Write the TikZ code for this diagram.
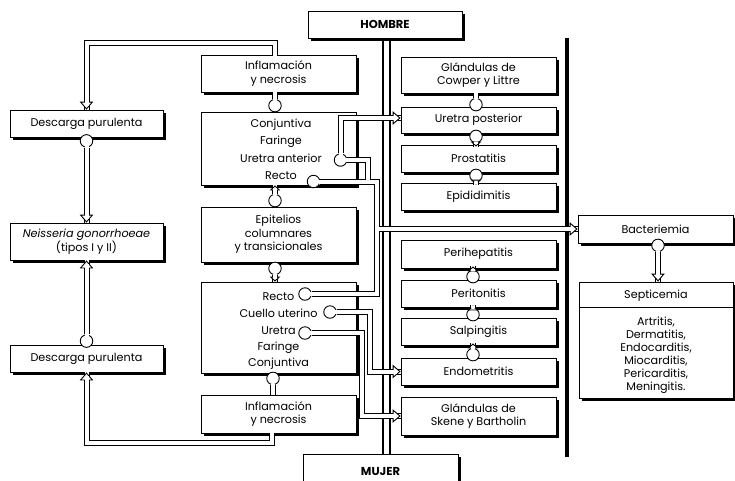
\documentclass[tikz,border=0pt]{standalone}
\usepackage{fontspec}
\setmainfont{Poppins}
\usetikzlibrary{arrows.meta,calc}

\begin{document}
\begin{tikzpicture}[x=1pt,y=-1pt,
  font=\fontsize{11.2}{13.5}\selectfont,
  box/.style={draw=black, line width=.8pt, fill=white, inner sep=0pt, align=center,
    preaction={fill=black, transform canvas={xshift=3pt,yshift=-3pt}}},
  txt/.style={inner sep=0pt},
  ball/.style={circle, draw=black, line width=.9pt, fill=white, minimum size=12.5pt, inner sep=0pt},
  pipe/.style={draw=black, line width=1pt, double=white, double distance=4pt},
  cover/.style 2 args={draw=white, line width=4pt, shorten <=#1, shorten >=#2},
  head/.style={draw=white, line width=.3pt,
    -{Triangle[width=13.5pt, length=8pt, color=black, fill=white, line width=.9pt]}},
  smallhead/.style={draw=white, line width=.3pt,
    -{Triangle[width=10.5pt, length=5pt, color=black, fill=white, line width=.9pt]}},
  pipeA/.style={pipe, postaction={head}, postaction={cover={-1.5pt}{3.6pt}}},
  pipeS/.style={pipe, postaction={smallhead}, postaction={cover={-1.5pt}{2.8pt}}},
  pipeN/.style={pipe, postaction={cover={-1.5pt}{0pt}}},
  pipeJ/.style={pipe, postaction={cover={-1.5pt}{-2pt}}},
  pipeB/.style={pipe, postaction={cover={-1.5pt}{-1.5pt}}},
  spine/.style={line width=2.7pt},
  divider/.style={line width=3.5pt},
  title/.style={font=\fontsize{11.5}{13}\selectfont\bfseries},
]
\path[use as bounding box] (0,0) rectangle (735,480);
\clip (0,0) rectangle (735,480);
\fill[white] (0,0) rectangle (735,480);

% ---- headers
\node[box, title, minimum width=154pt, minimum height=27pt] (hombre) at (385,24.5) {HOMBRE};
\node[box, title, minimum width=155pt, minimum height=34pt] (mujer) at (380.5,471) {MUJER};

% ---- left column
\node[box, minimum width=153pt, minimum height=27pt] (desc1) at (86.5,123.5) {Descarga purulenta};
\node[box, minimum width=153pt, minimum height=37pt] (neis) at (86.5,241.5)
  {{\itshape Neisseria gonorrhoeae}\\(tipos I y II)};
\node[box, minimum width=153pt, minimum height=27pt] (desc2) at (86.5,358.5) {Descarga purulenta};

% ---- middle column
\node[box, minimum width=155pt, minimum height=37pt] (infl1) at (278.5,73.5) {Inflamación\\y necrosis};
\node[box, minimum width=155pt, minimum height=73pt] (conj) at (278.5,148.5) {};
\node[box, minimum width=155pt, minimum height=55pt] (epit) at (278.5,234.5)
  {Epitelios\\columnares\\y transicionales};
\node[box, minimum width=155pt, minimum height=91pt] (recto) at (278.5,327.5) {};
\node[box, minimum width=155pt, minimum height=38pt] (infl2) at (278.5,414) {Inflamación\\y necrosis};

\node[txt] (tConj) at (281,125) {Conjuntiva};
\node[txt] (tFar) at (281,142) {Faringe};
\node[txt] (tUA) at (281,158.5) {Uretra anterior};
\node[txt] (tRM) at (281,176) {Recto};

\node[txt] (tRF) at (278.5,296.5) {Recto};
\node[txt] (tCU) at (278.5,313) {Cuello uterino};
\node[txt] (tUF) at (278.5,330.5) {Uretra};
\node[txt] (tFar2) at (278.5,347.5) {Faringe};
\node[txt] (tConj2) at (278.5,363.5) {Conjuntiva};

% ---- male sites
\node[box, minimum width=155pt, minimum height=36pt] (cowper) at (478.5,75) {Glándulas de\\Cowper y Littre};
\node[box, minimum width=155pt, minimum height=26pt] (uretrap) at (478.5,120) {Uretra posterior};
\node[box, minimum width=155pt, minimum height=27pt] (prost) at (478.5,158.5) {Prostatitis};
\node[box, minimum width=155pt, minimum height=27pt] (epid) at (478.5,196.5) {Epididimitis};

% ---- female sites
\node[box, minimum width=155pt, minimum height=28pt] (perih) at (478.5,254) {Perihepatitis};
\node[box, minimum width=155pt, minimum height=27pt] (perit) at (478.5,293.5) {Peritonitis};
\node[box, minimum width=155pt, minimum height=27pt] (salp) at (478.5,331.5) {Salpingitis};
\node[box, minimum width=155pt, minimum height=27pt] (endom) at (478.5,371.5) {Endometritis};
\node[box, minimum width=155pt, minimum height=38pt] (skene) at (478.5,416) {Glándulas de\\Skene y Bartholin};

% ---- systemic spread
\node[box, minimum width=155pt, minimum height=28pt] (bact) at (655.5,229) {Bacteriemia};
\node[box, minimum width=154pt, minimum height=116pt] (septi) at (656,340) {};
\node[txt] (tSep) at (656,296) {Septicemia};
\node[txt, align=center, font=\fontsize{11.2}{13}\selectfont] (tList) at (656,355)
  {Artritis,\\Dermatitis,\\Endocarditis,\\Miocarditis,\\Pericarditis,\\Meningitis.};
\draw[line width=.8pt] ([yshift=-26pt]septi.north west) -- ([yshift=-26pt]septi.north east);

% ---- separating lines
\coordinate (sp1) at ([xshift=-2pt]hombre.south);
\coordinate (sp2) at ([xshift=5pt]hombre.south);
\draw[spine] (sp1) -- (sp1 |- mujer.north);
\draw[spine] (sp2) -- (sp2 |- mujer.north);
\coordinate (divTop) at (567,38);
\coordinate (divBot) at (567,457);
\draw[divider] (divTop) -- (divBot);

% ---- source balls
\node[ball] (bD1) at ([yshift=-3.5pt]desc1.south) {};
\node[ball] (bD2) at ([yshift=3.5pt]desc2.north) {};
\node[ball] (bC1) at ([xshift=-3.5pt,yshift=6pt]conj.north) {};
\node[ball] (bE1) at ([xshift=-3.5pt,yshift=6pt]epit.north) {};
\node[ball] (bE2) at ([xshift=-3.5pt,yshift=-6pt]epit.south) {};
\node[ball] (bR2) at ([xshift=-5.5pt,yshift=-5pt]recto.south) {};
\node[ball] (bU1) at ([xshift=-2.5pt,yshift=2pt]uretrap.north) {};
\node[ball] (bU2) at ([xshift=-2.5pt,yshift=-3pt]uretrap.south) {};
\node[ball] (bP) at ([xshift=-2.5pt,yshift=-3pt]prost.south) {};
\node[ball] (bPt) at ([xshift=-5.5pt,yshift=3pt]perit.north) {};
\node[ball] (bS) at ([xshift=-5.5pt,yshift=3pt]salp.north) {};
\node[ball] (bEn) at ([xshift=-5.5pt,yshift=3pt]endom.north) {};
\node[ball] (bB) at ([xshift=2.5pt,yshift=-2pt]bact.south) {};
\node[ball] (bUA) at (340.5,160) {};
\node[ball] (bRM) at (313.5,181.5) {};
\node[ball] (bRF) at (305,294) {};
\node[ball] (bCU) at (330,312) {};
\node[ball] (bUF) at (305,333) {};

% ---- routing columns
\coordinate (xU) at (367.5,0);
\coordinate (xR) at (377,0);
\coordinate (xRR) at (380,0);
\coordinate (xC) at (370,0);
\coordinate (xUF) at (362,0);

% ---- left loop
\draw[pipeA] (bD1.south) -- (bD1.south |- neis.north);
\draw[pipeA] (bD2.north) -- (bD2.north |- neis.south);
\draw[pipeA] ([xshift=-3.5pt]infl1.north) -- ++(0,-12) -| (desc1.north);
\draw[pipeA] ([xshift=-6.5pt]infl2.south) -- ++(0,10) -| (desc2.south);

% ---- middle column
\draw[pipeN] (bC1.north) -- (bC1.north |- infl1.south);
\draw[pipeS] (bE1.north) -- (bE1.north |- conj.south);
\draw[pipeS] (bE2.south) -- (bE2.south |- recto.north);
\draw[pipeN] (bR2.south) -- (bR2.south |- infl2.north);

% ---- male chain
\draw[pipeN] (bU1.north) -- (bU1.north |- cowper.south);
\draw[pipeS] (bU2.south) -- ($(bU2.south |- prost.north)+(0,2)$);
\draw[pipeS] (bP.south) -- ($(bP.south |- epid.north)+(0,2)$);

% ---- female chain
\draw[pipeS] (bPt.north) -- ($(bPt.north |- perih.south)+(0,-2)$);
\draw[pipeS] (bS.north) -- ($(bS.north |- perit.south)+(0,-2)$);
\draw[pipeS] (bEn.north) -- ($(bEn.north |- salp.south)+(0,-2)$);

% ---- spread across the sexes
\draw[pipeB] (bRM.east) -| (xR |- bRF.east) -- (bRF.east);
\draw[pipeJ] (bUA.east) -| ($(xU |- bRM.east)+(0,-3)$);
\draw[pipeA] (bUA.north) |- ($(uretrap.west)+(0,-2)$);
\draw[pipeA] (xRR |- bact.west) -- (bact.west);
\draw[pipeA] (bCU.east) -| (xC |- endom.west) -- (endom.west);
\draw[pipeA] (bUF.east) -| (xUF |- skene.west) -- (skene.west);
\draw[pipeA] (bB.south) -- (bB.south |- septi.north);
\end{tikzpicture}
\end{document}
